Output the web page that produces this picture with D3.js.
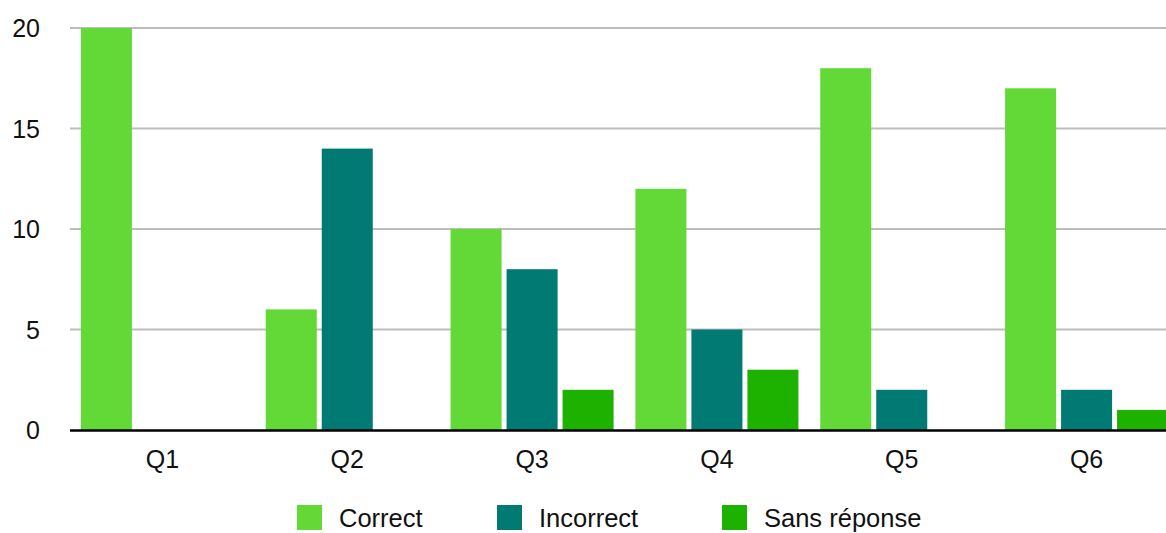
<!DOCTYPE html>
<html>
<head>
<meta charset="utf-8">
<script src="https://cdn.jsdelivr.net/npm/d3@7/dist/d3.min.js"></script>
<style>
  html, body { margin: 0; padding: 0; background: #fff; overflow: hidden; }
  svg { display: block; font-family: "Liberation Sans", Arial, Helvetica, sans-serif; }
</style>
</head>
<body>
<svg id="chart" width="1166" height="533"></svg>
<script>
const categories = ["Q1", "Q2", "Q3", "Q4", "Q5", "Q6"];
const seriesNames = ["Correct", "Incorrect", "Sans réponse"];
const correctValues = [20, 6, 10, 12, 18, 17];
const incorrectValues = [0, 14, 8, 5, 2, 2];
const sansReponseValues = [0, 0, 2, 3, 0, 1];
const yTickValues = [0, 5, 10, 15, 20];
const seriesColors = ["#63d938", "#007a73", "#1db100"];

const seriesValues = [correctValues, incorrectValues, sansReponseValues];
const table = categories.map((c, i) => ({
  cat: c,
  vals: seriesNames.map((s, j) => ({ key: s, value: seriesValues[j][i] }))
}));

const svg = d3.select("#chart");
const W = 1166;
const left = 70, plotRight = 1179;
const yTop = 28, yBottom = 430;

const x0 = d3.scaleBand().domain(categories).range([left, plotRight])
  .paddingInner(0.118).paddingOuter(0.059);
const x1 = d3.scaleBand().domain(seriesNames).range([0, x0.bandwidth()])
  .paddingInner(0.089).paddingOuter(0);
const y = d3.scaleLinear().domain([0, 20]).range([yBottom, yTop]);
const color = d3.scaleOrdinal().domain(seriesNames).range(seriesColors);

// gridlines
svg.append("g").selectAll("line").data(yTickValues.filter(v => v !== 0)).join("line")
  .attr("x1", left).attr("x2", W)
  .attr("y1", d => y(d)).attr("y2", d => y(d))
  .attr("stroke", "#bdbdbd").attr("stroke-width", 2.2);

// y axis labels
const yAxis = d3.axisLeft(y).tickValues(yTickValues).tickSize(0).tickPadding(0);
const gy = svg.append("g").attr("transform", "translate(40,0)").call(yAxis);
gy.select(".domain").remove();
gy.selectAll("text").attr("font-size", 25).attr("fill", "#111")
  .attr("font-family", "'Liberation Sans', Arial, sans-serif").attr("dy", "0.34em");

// bars
const groups = svg.append("g").selectAll("g").data(table).join("g")
  .attr("transform", d => `translate(${x0(d.cat)},0)`);
groups.selectAll("rect").data(d => d.vals).join("rect")
  .attr("x", d => x1(d.key))
  .attr("width", x1.bandwidth())
  .attr("y", d => y(d.value))
  .attr("height", d => yBottom - y(d.value))
  .attr("fill", d => color(d.key));

// baseline
svg.append("line").attr("x1", left).attr("x2", W)
  .attr("y1", y(0) + 0.5).attr("y2", y(0) + 0.5)
  .attr("stroke", "#000").attr("stroke-width", 2.6);

// x axis labels
const xAxis = d3.axisBottom(x0).tickSize(0).tickPadding(0);
const gx = svg.append("g").attr("transform", `translate(0,${yBottom})`).call(xAxis);
gx.select(".domain").remove();
gx.selectAll("text").attr("font-size", 25).attr("fill", "#111")
  .attr("font-family", "'Liberation Sans', Arial, sans-serif")
  .attr("dy", null).attr("y", 38);

// legend
const legendX = [297, 497, 722];
const legend = svg.append("g").selectAll("g").data(seriesNames).join("g")
  .attr("transform", (d, i) => `translate(${legendX[i]},505)`);
legend.append("rect").attr("width", 25).attr("height", 25).attr("fill", d => color(d));
legend.append("text").attr("x", 42).attr("y", 22)
  .attr("font-size", 25.5).attr("fill", "#111").text(d => d);
</script>
</body>
</html>
